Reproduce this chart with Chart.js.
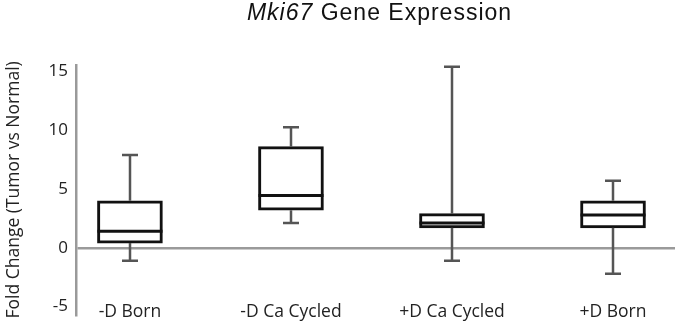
<!DOCTYPE html>
<html lang="en">
<head>
<meta charset="UTF-8">
<title>Mki67 Gene Expression</title>
<style>
  body { margin: 0; background: #fff; }
  #wrap { width: 683px; height: 333px; }
</style>
</head>
<body>
<div id="wrap"><canvas id="chart"></canvas></div>
<script src="https://cdn.jsdelivr.net/npm/chart.js"></script>
<script>
  const categories = ['-D Born', '-D Ca Cycled', '+D Ca Cycled', '+D Born'];
  const whiskerMin = [-1.1, 2.1, -1.1, -2.2];
  const boxLow = [0.4, 3.2, 1.7, 1.7];
  const medians = [1.4, 4.45, 2.1, 2.8];
  const boxHigh = [4.0, 8.6, 2.9, 4.0];
  const whiskerMax = [7.9, 10.25, 15.4, 5.7];
  const yTicks = [-5, 0, 5, 10, 15];

  const axisGray = '#9a9a9a';

  // whiskers, caps and median lines, placed with the chart's scales
  const boxExtras = {
    id: 'boxExtras',
    afterDatasetsDraw(chart) {
      const { ctx, scales: { x, y } } = chart;
      const half = chart.getDatasetMeta(0).data[0].width / 2;
      ctx.save();
      categories.forEach((c, i) => {
        const px = Math.round(x.getPixelForValue(i));
        ctx.strokeStyle = '#555';
        ctx.lineWidth = 2.5;
        ctx.beginPath();
        ctx.moveTo(px, y.getPixelForValue(boxHigh[i]));
        ctx.lineTo(px, y.getPixelForValue(whiskerMax[i]));
        ctx.moveTo(px, y.getPixelForValue(boxLow[i]));
        ctx.lineTo(px, y.getPixelForValue(whiskerMin[i]));
        ctx.moveTo(px - 8, y.getPixelForValue(whiskerMax[i]));
        ctx.lineTo(px + 8, y.getPixelForValue(whiskerMax[i]));
        ctx.moveTo(px - 8, y.getPixelForValue(whiskerMin[i]));
        ctx.lineTo(px + 8, y.getPixelForValue(whiskerMin[i]));
        ctx.stroke();
        ctx.strokeStyle = '#111';
        ctx.lineWidth = 3;
        ctx.beginPath();
        ctx.moveTo(px - half, y.getPixelForValue(medians[i]));
        ctx.lineTo(px + half, y.getPixelForValue(medians[i]));
        ctx.stroke();
      });
      ctx.restore();
    }
  };

  // title with the italic gene name
  const geneTitle = {
    id: 'geneTitle',
    afterDraw(chart) {
      const { ctx, chartArea } = chart;
      const italic = 'italic 23px "Liberation Sans", Arial, sans-serif';
      const plain = '23px "Liberation Sans", Arial, sans-serif';
      ctx.save();
      ctx.letterSpacing = '1px';
      ctx.font = italic;
      const w1 = ctx.measureText('Mki67').width;
      ctx.font = plain;
      const w2 = ctx.measureText(' Gene Expression').width;
      let left = (chartArea.left + chartArea.right) / 2 + 4 - (w1 + w2) / 2;
      ctx.fillStyle = '#111';
      ctx.textBaseline = 'middle';
      ctx.font = italic;
      ctx.fillText('Mki67', left, 14);
      ctx.font = plain;
      ctx.fillText(' Gene Expression', left + w1, 14);
      ctx.restore();
    }
  };

  new Chart(document.getElementById('chart'), {
    type: 'bar',
    data: {
      datasets: [{
        data: categories.map((c, i) => ({ x: i, y: [boxLow[i], boxHigh[i]] })),
        backgroundColor: '#fff',
        borderColor: '#111',
        borderWidth: 3,
        borderSkipped: false,
        barThickness: 65
      }]
    },
    options: {
      responsive: true,
      maintainAspectRatio: false,
      animation: false,
      layout: { padding: { top: 65, right: 8, bottom: 15, left: 0 } },
      plugins: { legend: { display: false }, tooltip: { enabled: false } },
      scales: {
        x: {
          type: 'linear',
          offset: false,
          min: -0.335,
          max: 3.385,
          position: { y: -4.2 },
          afterBuildTicks(scale) { scale.ticks = categories.map((c, i) => ({ value: i })); },
          ticks: {
            callback: (v) => categories[v],
            font: { family: '"Open Sans", sans-serif', size: 17.5 },
            color: '#222',
            padding: 4,
            maxRotation: 0
          },
          grid: { display: false, drawTicks: false, offset: false },
          border: { display: false }
        },
        y: {
          min: -5.7,
          max: 15.55,
          afterBuildTicks(scale) { scale.ticks = yTicks.map(v => ({ value: v })); },
          afterFit(scale) { scale.width = 76; },
          ticks: {
            font: { family: '"Open Sans", sans-serif', size: 17 },
            color: '#222',
            padding: 8
          },
          grid: {
            drawTicks: false,
            color: (c) => c.tick && c.tick.value === 0 ? axisGray : 'transparent',
            lineWidth: 2.5
          },
          border: { color: axisGray, width: 2.5 },
          title: {
            display: true,
            text: 'Fold Change (Tumor vs Normal)',
            font: { family: '"Open Sans", sans-serif', size: 17.5 },
            color: '#222',
            padding: { top: 4, bottom: 0 }
          }
        }
      }
    },
    plugins: [boxExtras, geneTitle]
  });
</script>
</body>
</html>
